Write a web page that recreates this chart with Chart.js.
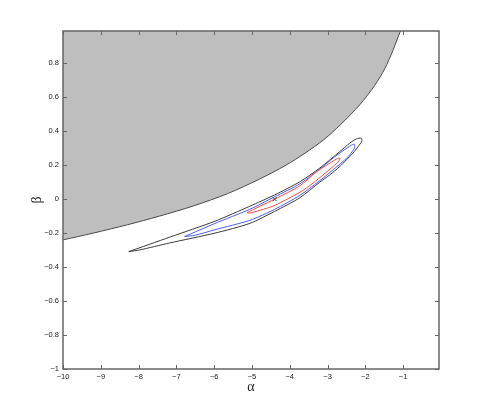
<!DOCTYPE html>
<html>
<head>
<meta charset="utf-8">
<script src="https://cdn.jsdelivr.net/npm/chart.js@4.4.1/dist/chart.umd.min.js"></script>
<style>
  html, body { margin: 0; padding: 0; background: #fff; }
</style>
</head>
<body>
<canvas id="contours" width="485" height="415"></canvas>
<script>
// =====================
// data
// =====================
var xTicks = [-10, -9, -8, -7, -6, -5, -4, -3, -2, -1];
var yTicks = [-1, -0.8, -0.6, -0.4, -0.2, 0, 0.2, 0.4, 0.6, 0.8];

// edge of the grey (excluded) region
var edgeX = [-10, -9.2, -8.3, -7.45, -6.55, -5.65, -4.8, -4.1, -3.6, -3.1, -2.65, -2.15, -1.75, -1.48, -1.27, -1.14, -1.07];
var edgeY = [-0.24, -0.2, -0.151, -0.1, -0.04, 0.032, 0.118, 0.2, 0.27, 0.35, 0.44, 0.555, 0.67, 0.77, 0.875, 0.95, 0.99];

// outer contour (black)
var outerX = [-8.26, -7.18, -5.98, -5.06, -4.40, -3.735, -3.205, -2.676, -2.41, -2.234, -2.107,
              -2.094, -2.19, -2.324, -2.50, -2.676, -2.94, -3.205, -3.735, -4.40, -5.06, -5.98, -7.18, -7.97, -8.26];
var outerY = [-0.309, -0.224, -0.130, -0.042, 0.025, 0.102, 0.183, 0.280, 0.330, 0.355, 0.359,
              0.341, 0.310, 0.271, 0.232, 0.192, 0.143, 0.100, 0.008, -0.072, -0.143, -0.200, -0.258, -0.299, -0.309];

// middle contour (blue)
var midX = [-6.78, -5.98, -5.06, -4.40, -3.735, -3.118, -2.853, -2.589, -2.366, -2.292,
            -2.28, -2.41, -2.589, -2.853, -3.118, -3.735, -4.40, -5.06, -5.98, -6.51, -6.78];
var midY = [-0.220, -0.143, -0.060, 0.014, 0.090, 0.192, 0.242, 0.285, 0.318, 0.323,
            0.304, 0.261, 0.222, 0.173, 0.124, 0.022, -0.060, -0.125, -0.180, -0.213, -0.220];

// inner contour (red)
var innerX = [-5.13, -4.79, -4.40, -3.735, -3.293, -3.028, -2.763, -2.676,
              -2.69, -2.853, -3.118, -3.383, -3.735, -4.40, -4.79, -5.06, -5.13];
var innerY = [-0.079, -0.042, 0.0, 0.078, 0.161, 0.199, 0.236, 0.242,
              0.227, 0.192, 0.143, 0.094, 0.040, -0.037, -0.066, -0.082, -0.079];

// estimate
var bestX = [-4.40];
var bestY = [0.0];

function pts(xs, ys) {
  return xs.map(function (x, i) { return { x: x, y: ys[i] }; });
}

function minusFmt(v) {
  return v < 0 ? '\u2212' + String(Math.abs(v)) : String(v);
}

var tickFont = { family: 'Liberation Sans', size: 7.5 };
var titleFont = { family: 'Liberation Serif', size: 14 };

// inward ticks on all four sides + box, like matlab "box on"
var frameTicks = {
  id: 'frameTicks',
  afterDatasetsDraw: function (chart) {
    var ctx = chart.ctx, a = chart.chartArea;
    var xs = chart.scales.x, ys = chart.scales.y;
    ctx.save();
    ctx.strokeStyle = '#666';
    ctx.lineWidth = 1;
    ctx.beginPath();
    xTicks.forEach(function (v) {
      var px = Math.round(xs.getPixelForValue(v)) + 0.5;
      ctx.moveTo(px, a.bottom); ctx.lineTo(px, a.bottom - 4);
      ctx.moveTo(px, a.top); ctx.lineTo(px, a.top + 4);
    });
    yTicks.forEach(function (v) {
      var py = Math.round(ys.getPixelForValue(v)) + 0.5;
      ctx.moveTo(a.left, py); ctx.lineTo(a.left + 4, py);
      ctx.moveTo(a.right, py); ctx.lineTo(a.right - 4, py);
    });
    ctx.stroke();
    ctx.lineWidth = 1.5;
    ctx.strokeRect(a.left, a.top, a.right - a.left, a.bottom - a.top);
    ctx.restore();
  }
};

var ctxContours = document.getElementById('contours').getContext('2d');

var contourChart = new Chart(ctxContours, {
  type: 'scatter',
  data: {
    datasets: [
      {
        data: pts(bestX, bestY),
        pointStyle: 'crossRot',
        pointRadius: 3,
        borderColor: '#444',
        borderWidth: 1,
        order: 0
      },
      {
        data: pts(innerX, innerY),
        showLine: true,
        tension: 0.25,
        borderColor: '#f04848',
        borderWidth: 1,
        pointRadius: 0,
        order: 1
      },
      {
        data: pts(midX, midY),
        showLine: true,
        tension: 0.25,
        borderColor: '#4a5cf0',
        borderWidth: 1,
        pointRadius: 0,
        order: 2
      },
      {
        data: pts(outerX, outerY),
        showLine: true,
        tension: 0.25,
        borderColor: '#3a3a3a',
        borderWidth: 1,
        pointRadius: 0,
        order: 3
      },
      {
        data: pts(edgeX, edgeY),
        showLine: true,
        tension: 0.3,
        fill: 'end',
        backgroundColor: '#bebebe',
        borderColor: '#4a4a4a',
        borderWidth: 1,
        pointRadius: 0,
        order: 5
      }
    ]
  },
  options: {
    responsive: false,
    animation: false,
    layout: { padding: { left: 0, top: 31, right: 46, bottom: 0 } },
    plugins: {
      legend: { display: false },
      tooltip: { enabled: false }
    },
    scales: {
      x: {
        type: 'linear',
        min: -10,
        max: -0.05,
        grid: { display: false, drawTicks: false },
        border: { display: false },
        ticks: { font: tickFont, color: '#222', padding: 3, maxRotation: 0, autoSkip: false, callback: minusFmt },
        afterBuildTicks: function (axis) { axis.ticks = xTicks.map(function (v) { return { value: v }; }); },
        afterFit: function (axis) { axis.height = 46; },
        title: { display: true, text: 'α', font: titleFont, color: '#222', padding: { top: 0, bottom: 19 } }
      },
      y: {
        type: 'linear',
        min: -1,
        max: 0.99,
        grid: { display: false, drawTicks: false },
        border: { display: false },
        ticks: { font: tickFont, color: '#222', padding: 4, autoSkip: false, callback: minusFmt },
        afterBuildTicks: function (axis) { axis.ticks = yTicks.map(function (v) { return { value: v }; }); },
        afterFit: function (axis) { axis.width = 63; },
        title: { display: true, text: 'β', font: titleFont, color: '#222', padding: { top: 29, bottom: 0 } }
      }
    }
  },
  plugins: [frameTicks]
});
</script>
</body>
</html>
